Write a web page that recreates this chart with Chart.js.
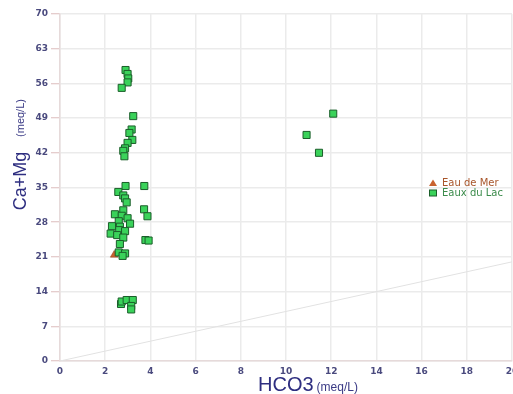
<!DOCTYPE html>
<html>
<head>
<meta charset="utf-8">
<script src="https://cdn.jsdelivr.net/npm/chart.js@4/dist/chart.umd.min.js"></script>
<style>
html,body{margin:0;padding:0;overflow:hidden;background:#fff;}
#wrap{width:525px;height:394px;}
</style>
</head>
<body>
<div id="wrap"><canvas id="c" width="525" height="394"></canvas></div>
<script>
// ---- data ----
const seriesNames = ['Eau de Mer', 'Eaux du Lac'];
const merX = [2.4];
const merY = [21.4];
const lacX = [2.9, 2.99, 3.02, 2.99, 2.73,
  3.24, 3.17, 3.07, 3.2, 2.99, 2.88, 2.8, 2.85,
  2.9, 3.73, 2.58, 2.8, 2.88, 2.95,
  3.72, 2.8, 2.43, 2.73, 3.87, 2.99, 2.6, 3.1, 2.3, 2.65, 2.62, 2.88, 2.24, 2.53, 2.8, 3.78, 3.92, 2.65,
  2.6, 2.88, 2.77,
  2.7, 2.73, 2.95, 3.22, 3.15, 3.15,
  12.09, 10.91, 11.46];
const lacY = [58.7, 57.9, 57.0, 56.2, 55.1,
  49.4, 46.7, 46.0, 44.6, 44.0, 42.9, 42.4, 41.3,
  35.3, 35.3, 34.1, 33.4, 32.8, 32.0,
  30.6, 30.4, 29.6, 29.3, 29.2, 28.8, 28.2, 27.7, 27.2, 27.1, 26.4, 26.2, 25.7, 25.4, 24.9, 24.4, 24.3, 23.6,
  21.9, 21.7, 21.2,
  11.5, 12.0, 12.3, 12.3, 11.1, 10.4,
  49.9, 45.6, 42.0];
const refLineX = [0, 20];
const refLineY = [0, 20];
const xTicks = [0, 2, 4, 6, 8, 10, 12, 14, 16, 18, 20];
const yTicks = [0, 7, 14, 21, 28, 35, 42, 49, 56, 63, 70];
const xTitle = 'HCO3';
const yTitle = 'Ca+Mg';
const unitText = '(meq/L)';

const zip = (xs, ys) => xs.map((x, i) => ({x, y: ys[i]}));

const merColor = '#c9622f';
const merBorder = '#8a3a14';
const lacColor = '#3ad25a';
const lacBorder = '#1b5e2a';

const overlay = {
  id: 'overlay',
  afterDraw(chart) {
    const ctx = chart.ctx;
    ctx.save();
    // x title
    ctx.fillStyle = '#2e2e80';
    ctx.textBaseline = 'alphabetic';
    ctx.textAlign = 'left';
    ctx.font = '20px "Liberation Sans"';
    ctx.fillText(xTitle, 258, 391);
    const w = ctx.measureText(xTitle).width;
    ctx.font = '12px "Liberation Sans"';
    ctx.fillStyle = '#3a3a85';
    ctx.fillText(unitText, 258 + w + 3, 391);
    // y title
    ctx.save();
    ctx.translate(26, 181);
    ctx.rotate(-Math.PI / 2);
    ctx.textAlign = 'center';
    ctx.font = '18px "Liberation Sans"';
    ctx.fillStyle = '#2e2e80';
    ctx.fillText(yTitle, 0, 0);
    ctx.restore();
    ctx.save();
    ctx.translate(24, 118);
    ctx.rotate(-Math.PI / 2);
    ctx.textAlign = 'center';
    ctx.font = '11px "Liberation Sans"';
    ctx.fillStyle = '#3a3a85';
    ctx.fillText(unitText, 0, 0);
    ctx.restore();
    // legend
    const lx = 433, ly1 = 183, ly2 = 193;
    ctx.beginPath();
    ctx.moveTo(lx, ly1 - 3.5);
    ctx.lineTo(lx + 4, ly1 + 3);
    ctx.lineTo(lx - 4, ly1 + 3);
    ctx.closePath();
    ctx.fillStyle = merColor;
    ctx.fill();
    ctx.fillStyle = lacColor;
    ctx.strokeStyle = lacBorder;
    ctx.lineWidth = 1;
    ctx.fillRect(lx - 3.5, ly2 - 3, 7, 6);
    ctx.strokeRect(lx - 3.5, ly2 - 3, 7, 6);
    ctx.font = '10px "DejaVu Sans"';
    ctx.textBaseline = 'middle';
    ctx.textAlign = 'left';
    ctx.fillStyle = '#a8552a';
    ctx.fillText(seriesNames[0], lx + 9, ly1);
    ctx.fillStyle = '#3b8b4b';
    ctx.fillText(seriesNames[1], lx + 9, ly2);
    ctx.restore();
  }
};

const tickFont = {family: '"DejaVu Sans"', size: 9, weight: 'bold'};
const tickColor = '#4a4a7e';

new Chart(document.getElementById('c'), {
  data: {
    datasets: [
      {
        type: 'line',
        label: 'ref',
        data: zip(refLineX, refLineY),
        borderColor: '#e2e2e2',
        borderWidth: 1,
        pointRadius: 0,
        fill: false,
        order: 3
      },
      {
        type: 'scatter',
        label: seriesNames[0],
        data: zip(merX, merY),
        pointStyle: 'triangle',
        radius: 4.5,
        backgroundColor: merColor,
        borderColor: merBorder,
        borderWidth: 0.5,
        order: 2
      },
      {
        type: 'scatter',
        label: seriesNames[1],
        data: zip(lacX, lacY),
        pointStyle: 'rect',
        radius: 5,
        backgroundColor: lacColor,
        borderColor: lacBorder,
        borderWidth: 1,
        order: 1
      }
    ]
  },
  options: {
    responsive: false,
    animation: false,
    layout: {padding: {top: 14, right: 13, left: 0, bottom: 0}},
    plugins: {legend: {display: false}, tooltip: {enabled: false}},
    scales: {
      x: {
        type: 'linear',
        min: 0, max: 20,
        afterFit: s => { s.height = 33; },
        afterBuildTicks: s => { s.ticks = xTicks.map(v => ({value: v})); },
        grid: {color: '#ebebeb', lineWidth: 1.5, drawTicks: false},
        border: {color: '#e6dada', width: 1.5},
        ticks: {font: tickFont, color: tickColor, padding: 5, maxRotation: 0}
      },
      y: {
        type: 'linear',
        min: 0, max: 70,
        afterFit: s => { s.width = 60; },
        afterBuildTicks: s => { s.ticks = yTicks.map(v => ({value: v})); },
        grid: {color: '#ebebeb', lineWidth: 1.5, tickLength: 9, tickColor: '#dcbcbc', tickWidth: 1},
        border: {color: '#e6dada', width: 1.5},
        ticks: {font: tickFont, color: tickColor, padding: 3}
      }
    }
  },
  plugins: [overlay]
});
</script>
</body>
</html>
